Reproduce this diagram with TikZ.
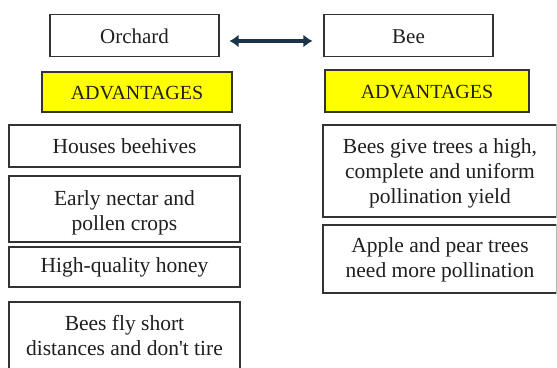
\documentclass[tikz,border=0pt]{standalone}
\usepackage{fontspec}
\setmainfont{Liberation Serif}
\newfontfamily\boxfont{Liberation Serif}
\usetikzlibrary{arrows.meta}
\definecolor{arrowblue}{HTML}{1C3447}
\definecolor{boxline}{HTML}{333333}
\definecolor{hdryellow}{HTML}{FFFF00}
\begin{document}
\begin{tikzpicture}[x=1pt,y=-1pt,
  box/.style={draw=boxline, line width=1.2pt, rectangle, align=center,
    inner sep=0pt, text height=15pt, text depth=0pt,
    font=\boxfont\fontsize{21.5}{25}\selectfont, text=black!88},
  % multi-line boxes: the text box sits on its last line
  multibox/.style={box, text height=#1, text depth=5pt},
  titlebox/.style={box, font=\boxfont\fontsize{21}{25}\selectfont},
  header/.style={box, fill=hdryellow, font=\boxfont\fontsize{20}{25}\selectfont},
  link/.style={draw=arrowblue, line width=3.6pt,
    {Latex[length=9pt,width=13pt]}-{Latex[length=9pt,width=13pt]}}
  ]
\useasboundingbox (0,0) rectangle (557,367);
\clip (0,0) rectangle (556.3,367);
\fill[white] (0,0) rectangle (557,367);

% titles
\node[titlebox, minimum width=169pt, minimum height=42pt] (orchard) at (134.5,35.5) {Orchard};
\node[titlebox, minimum width=169pt, minimum height=42pt] (bee) at (408.5,35.5) {Bee};
\draw[link] ([xshift=10pt,yshift=-5.5pt]orchard.east) -- ([xshift=-11pt,yshift=-5.5pt]bee.west);

% headers
\node[header, minimum width=190pt, minimum height=40pt] (advL) at (137,92) {ADVANTAGES};
\node[header, minimum width=204pt, minimum height=42pt] (advR) at (427,91) {ADVANTAGES};

% orchard column
\node[box, minimum width=231pt, minimum height=42pt, text depth=1pt] (houses) at (124.5,146) {Houses beehives};
\node[multibox=47pt, minimum width=231pt, minimum height=66pt] (nectar) at (124.5,209) {Early nectar and\\pollen crops};
\node[box, minimum width=231pt, minimum height=40pt, text depth=5pt] (honey) at (124.5,267) {High-quality honey};
\node[multibox=40pt, minimum width=231pt, minimum height=72pt] (fly) at (124.5,338) {Bees fly short\\distances and don\textquotesingle t tire};

% bee column
\node[multibox=69pt, minimum width=234pt, minimum height=92pt] (yield) at (440,171) {Bees give trees a high,\\complete and uniform\\pollination yield};
\node[multibox=41pt, minimum width=234pt, minimum height=68pt] (apple) at (440,259) {Apple and pear trees\\need more pollination};
\end{tikzpicture}
\end{document}
